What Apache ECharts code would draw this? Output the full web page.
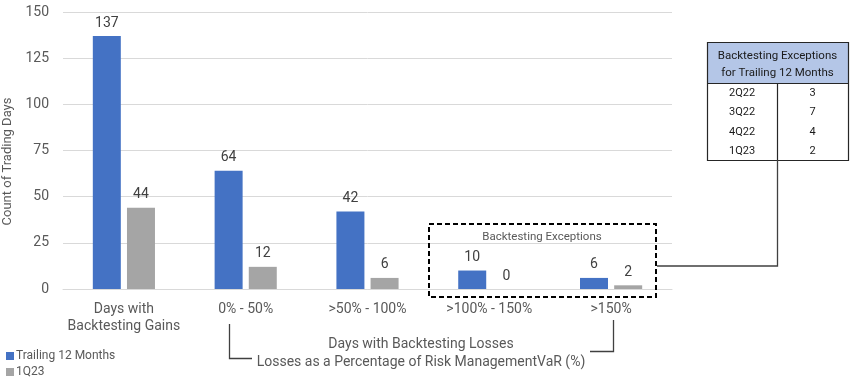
<!DOCTYPE html>
<html><head><meta charset="utf-8">
<script src="https://cdn.jsdelivr.net/npm/echarts@6/dist/echarts.min.js"></script>
<style>html,body{margin:0;padding:0;background:#fff}#c{width:855px;height:379px}</style>
</head><body><div id="c"></div>
<script>
const categories = ['Days with\nBacktesting Gains', '0% - 50%', '>50% - 100%', '>100% - 150%', '>150%'];
const trailing12 = [137, 64, 42, 10, 6];
const q123 = [44, 12, 6, 0, 2];
const seriesNames = ['Trailing 12 Months', '1Q23'];
const yTicks = [0, 25, 50, 75, 100, 125, 150];
const tableQuarters = ['2Q22', '3Q22', '4Q22', '1Q23'];
const tableExceptions = [3, 7, 4, 2];

const FONT = 'Roboto';
const TXT = '#595959';
const chart = echarts.init(document.getElementById('c'), null, {renderer: 'canvas'});

const graphics = [];
// dashed box
graphics.push({type: 'rect', shape: {x: 429, y: 224, width: 227, height: 73},
  style: {fill: 'none', stroke: '#000', lineWidth: 2, lineDash: [5, 3]}, z: 10});
graphics.push({type: 'text', x: 542, y: 237, style: {text: 'Backtesting Exceptions', font: '11.5px ' + FONT,
  fill: TXT, align: 'center', verticalAlign: 'middle'}, z: 10});
// connector
graphics.push({type: 'polyline', shape: {points: [[657, 266], [777.5, 266], [777.5, 160]]},
  style: {stroke: '#404040', lineWidth: 1.3, fill: 'none'}, z: 10});
// brackets
graphics.push({type: 'polyline', shape: {points: [[229.5, 324], [229.5, 358.5], [252, 358.5]]},
  style: {stroke: '#404040', lineWidth: 1.3, fill: 'none'}, z: 10});
graphics.push({type: 'polyline', shape: {points: [[613.5, 320], [613.5, 351.5], [590, 351.5]]},
  style: {stroke: '#404040', lineWidth: 1.3, fill: 'none'}, z: 10});
graphics.push({type: 'text', x: 421, y: 344, style: {text: 'Days with Backtesting Losses', font: '14px ' + FONT,
  fill: TXT, align: 'center', verticalAlign: 'middle'}});
graphics.push({type: 'text', x: 421, y: 362, style: {text: 'Losses as a Percentage of Risk ManagementVaR (%)', font: '14px ' + FONT,
  fill: TXT, align: 'center', verticalAlign: 'middle'}});
// table
const tx0 = 707, tx1 = 848, ty0 = 42, thead = 83, rowH = 19.5, tdiv = 777;
const ty1 = thead + rowH * tableQuarters.length - 1;
graphics.push({type: 'rect', shape: {x: tx0, y: ty0, width: tx1 - tx0, height: thead - ty0},
  style: {fill: '#b4c6e7', stroke: 'none'}, z: 5});
graphics.push({type: 'rect', shape: {x: tx0 + 0.5, y: ty0 + 0.5, width: tx1 - tx0, height: ty1 - ty0},
  style: {fill: 'none', stroke: '#262626', lineWidth: 1.2}, z: 6});
graphics.push({type: 'line', shape: {x1: tx0, y1: thead + 0.5, x2: tx1, y2: thead + 0.5},
  style: {stroke: '#262626', lineWidth: 1.2}, z: 6});
graphics.push({type: 'line', shape: {x1: tdiv + 0.5, y1: thead, x2: tdiv + 0.5, y2: ty1},
  style: {stroke: '#262626', lineWidth: 1.2}, z: 6});
graphics.push({type: 'text', x: (tx0 + tx1) / 2, y: 56, style: {text: 'Backtesting Exceptions', font: '11.5px ' + FONT,
  fill: '#1a1a1a', align: 'center', verticalAlign: 'middle'}, z: 7});
graphics.push({type: 'text', x: (tx0 + tx1) / 2, y: 73, style: {text: 'for Trailing 12 Months', font: '11.5px ' + FONT,
  fill: '#1a1a1a', align: 'center', verticalAlign: 'middle'}, z: 7});
tableQuarters.forEach((q, i) => {
  const cy = thead + rowH * i + 10;
  graphics.push({type: 'text', x: (tx0 + tdiv) / 2, y: cy, style: {text: q, font: '11px ' + FONT,
    fill: '#1a1a1a', align: 'center', verticalAlign: 'middle'}, z: 7});
  graphics.push({type: 'text', x: (tdiv + tx1) / 2, y: cy, style: {text: String(tableExceptions[i]), font: '11px ' + FONT,
    fill: '#1a1a1a', align: 'center', verticalAlign: 'middle'}, z: 7});
});

const labelStyle = {show: true, position: 'top', distance: 6, color: '#404040', fontFamily: FONT, fontSize: 14};
const legendBase = {
  orient: 'vertical', left: 1, itemWidth: 8, itemHeight: 8,
  icon: 'rect', textStyle: {color: TXT, fontSize: 12, fontFamily: FONT, padding: [0, 0, 0, -3]}
};

chart.setOption({
  animation: false,
  textStyle: {fontFamily: FONT},
  grid: {left: 63, right: 183, top: 12, bottom: 90, containLabel: false, outerBoundsMode: 'none'},
  legend: [
    Object.assign({}, legendBase, {top: 345, data: [seriesNames[0]]}),
    Object.assign({}, legendBase, {top: 361, data: [seriesNames[1]]})
  ],
  xAxis: {
    type: 'category', data: categories,
    axisLine: {lineStyle: {color: '#d9d9d9'}}, axisTick: {show: false},
    axisLabel: {color: TXT, fontSize: 14, fontFamily: FONT, lineHeight: 17, margin: 12, interval: 0}
  },
  yAxis: {
    type: 'value', min: 0, max: yTicks[yTicks.length - 1], interval: yTicks[1] - yTicks[0],
    name: 'Count of Trading Days', nameLocation: 'middle', nameGap: 47,
    nameTextStyle: {color: TXT, fontSize: 13, fontFamily: FONT, padding: [0, 22, 0, 0]},
    axisLine: {show: false}, axisTick: {show: false},
    axisLabel: {color: TXT, fontSize: 14, fontFamily: FONT, margin: 14},
    splitLine: {lineStyle: {color: '#d9d9d9'}}
  },
  series: [
    {name: seriesNames[0], type: 'bar', data: trailing12, barWidth: 28, barGap: '22%',
     itemStyle: {color: '#4472c4'}, label: labelStyle},
    {name: seriesNames[1], type: 'bar', data: q123, barWidth: 28, barGap: '22%',
     itemStyle: {color: '#a5a5a5'}, label: labelStyle}
  ],
  graphic: graphics
});
</script></body></html>
